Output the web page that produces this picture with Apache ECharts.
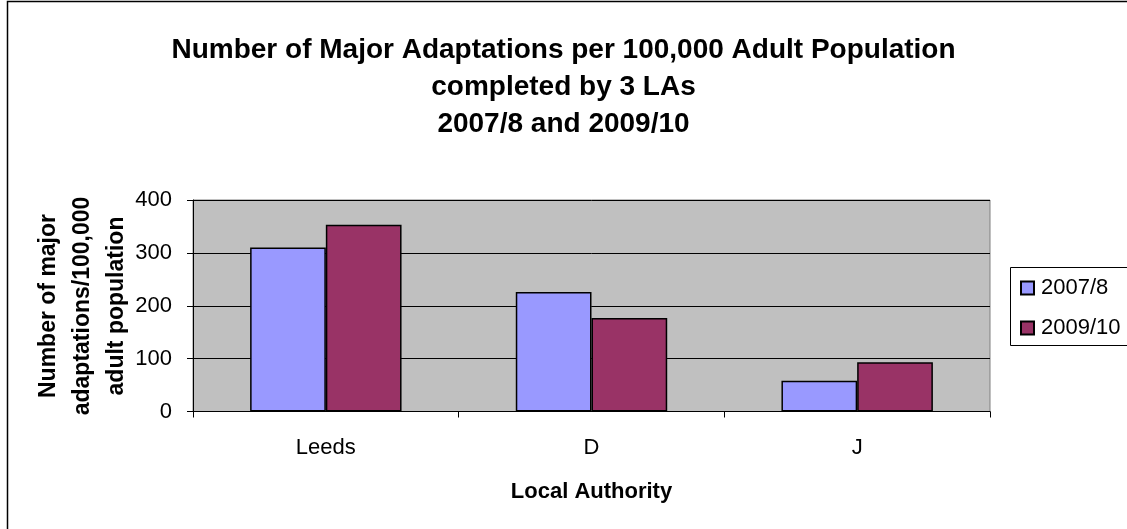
<!DOCTYPE html>
<html>
<head>
<meta charset="utf-8">
<script src="https://cdn.jsdelivr.net/npm/echarts@6/dist/echarts.min.js"></script>
<style>
  html, body { margin: 0; padding: 0; background: #fff; }
  #chart { width: 1127px; height: 529px; }
</style>
</head>
<body>
<div id="chart"></div>
<script>
// Local authorities and adaptations per 100,000 adult population
const categories = ['Leeds', 'D', 'J'];
const seriesNames = ['2007/8', '2009/10'];
const values2007 = [310, 226, 58];
const values2009 = [353, 177, 93];
const yTicks = [0, 100, 200, 300, 400];
const yTitle = 'Number of major\nadaptations/100,000\nadult population';

const FONT = '"Liberation Sans", Arial, sans-serif';

const chart = echarts.init(document.getElementById('chart'), null, { renderer: 'canvas' });

chart.setOption({
  backgroundColor: '#ffffff',
  animation: false,
  title: {
    text: 'Number of Major Adaptations per 100,000 Adult Population\ncompleted by 3 LAs\n2007/8 and 2009/10',
    left: 'center',
    top: 27,
    textStyle: {
      fontFamily: FONT,
      fontWeight: 'bold',
      fontSize: 28,
      lineHeight: 37,
      color: '#000',
      align: 'center'
    }
  },
  legend: {
    orient: 'vertical',
    left: 1010,
    top: 267,
    padding: [10, 10, 6, 10],
    itemGap: 18,
    itemWidth: 13,
    itemHeight: 13,
    borderWidth: 0,
    textStyle: { fontFamily: FONT, fontSize: 22, color: '#000', padding: [0, 0, 0, 2] },
    data: seriesNames.map(n => ({ name: n, icon: 'rect' }))
  },
  grid: {
    left: 193,
    right: 137,
    top: 200,
    bottom: 117.5,
    show: true,
    backgroundColor: '#c0c0c0',
    borderColor: '#808080',
    borderWidth: 1
  },
  xAxis: {
    type: 'category',
    data: categories,
    name: 'Local Authority',
    nameLocation: 'middle',
    nameGap: 69,
    nameTextStyle: { fontFamily: FONT, fontWeight: 'bold', fontSize: 22, color: '#000' },
    axisLine: { lineStyle: { color: '#000', width: 1 } },
    axisTick: { show: true, length: 6, inside: false, alignWithLabel: false, lineStyle: { color: '#000' } },
    axisLabel: { fontFamily: FONT, fontSize: 22, color: '#000', margin: 25 },
    splitLine: { show: false }
  },
  yAxis: {
    type: 'value',
    min: yTicks[0],
    max: yTicks[yTicks.length - 1],
    interval: 100,
    axisLine: { show: true, lineStyle: { color: '#000', width: 1 } },
    axisTick: { show: true, length: 6, inside: false, lineStyle: { color: '#000' } },
    axisLabel: { fontFamily: FONT, fontSize: 22, color: '#000', margin: 21 },
    splitLine: { show: true, lineStyle: { color: '#000', width: 1 } }
  },
  series: [
    {
      name: seriesNames[0],
      type: 'bar',
      data: values2007,
      barGap: '0%',
      barCategoryGap: '43%',
      itemStyle: { color: '#9999ff', borderColor: '#000', borderWidth: 1.5 }
    },
    {
      name: seriesNames[1],
      type: 'bar',
      data: values2009,
      barGap: '0%',
      barCategoryGap: '43%',
      itemStyle: { color: '#993366', borderColor: '#000', borderWidth: 1.5 }
    }
  ],
  graphic: [
    {
      // vertical value-axis title, three lines reading upwards
      type: 'text',
      silent: true,
      x: 83,
      y: 306,
      rotation: Math.PI / 2,
      style: {
        text: yTitle,
        fontFamily: FONT,
        fontWeight: 'bold',
        fontSize: 23,
        lineHeight: 34,
        fill: '#000',
        align: 'center',
        verticalAlign: 'middle'
      }
    },
    {
      // outer chart frame
      type: 'rect',
      silent: true,
      z: 100,
      shape: { x: 7.5, y: 1.5, width: 1200, height: 600 },
      style: { fill: 'none', stroke: '#000', lineWidth: 1.5 }
    },
    {
      // legend frame, running off the right edge
      type: 'rect',
      silent: true,
      z: 100,
      shape: { x: 1010.5, y: 267.5, width: 200, height: 78 },
      style: { fill: 'none', stroke: '#000', lineWidth: 1 }
    }
  ]
});
</script>
</body>
</html>
